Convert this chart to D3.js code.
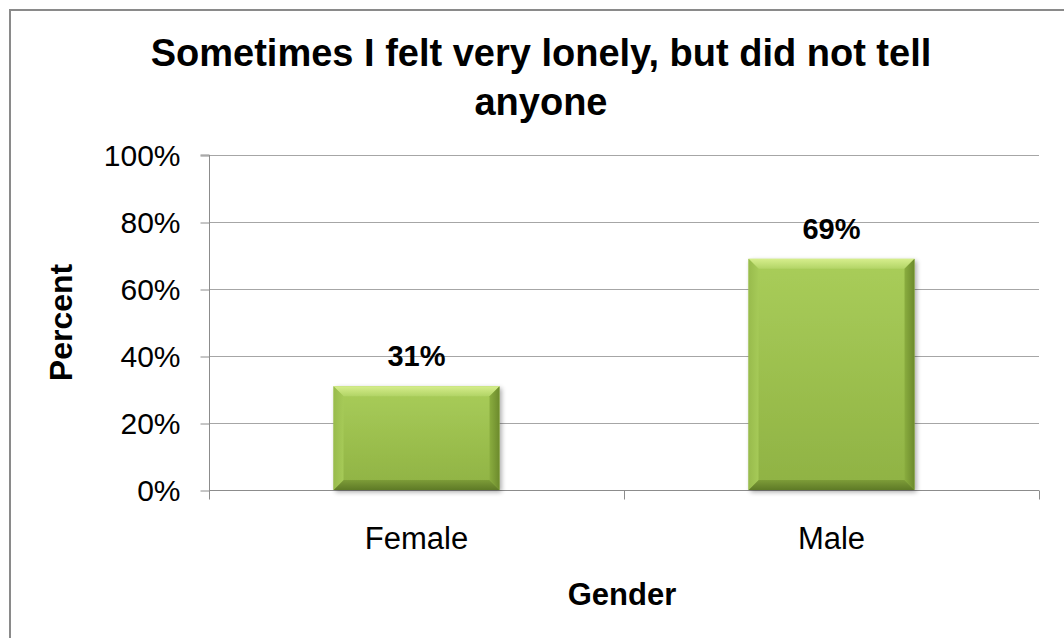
<!DOCTYPE html>
<html>
<head>
<meta charset="utf-8">
<script src="https://cdn.jsdelivr.net/npm/d3@7"></script>
<style>
  html, body { margin: 0; padding: 0; background: #fff; }
  svg { display: block; font-family: "Liberation Sans", Arial, sans-serif; }
</style>
</head>
<body>
<svg id="chart" width="1064" height="638"></svg>
<script>
// Chart data
const categories = ["Female", "Male"];
const percents = [31, 69];
const yTicks = [0, 20, 40, 60, 80, 100];
const titleLines = ["Sometimes I felt very lonely, but did not tell", "anyone"];
const yAxisTitle = "Percent";
const xAxisTitle = "Gender";

const W = 1064, H = 638;
const svg = d3.select("#chart");

// Chart frame
svg.append("rect")
  .attr("x", 10).attr("y", 10)
  .attr("width", W + 20).attr("height", H + 20)
  .attr("fill", "#fff")
  .attr("stroke", "#8a8a8a").attr("stroke-width", 2);

const plot = { left: 209, right: 1039, top: 155, bottom: 490 };

const x = d3.scaleBand()
  .domain(categories)
  .range([plot.left, plot.right])
  .paddingInner(0.6).paddingOuter(0.3);

const y = d3.scaleLinear().domain([0, 100]).range([plot.bottom, plot.top]);

// Gradients for bevelled bars
const defs = svg.append("defs");
function vGrad(id, stops) {
  const g = defs.append("linearGradient").attr("id", id)
    .attr("x1", 0).attr("y1", 0).attr("x2", 0).attr("y2", 1);
  stops.forEach(s => g.append("stop").attr("offset", s[0]).attr("stop-color", s[1]));
}
function hGrad(id, stops) {
  const g = defs.append("linearGradient").attr("id", id)
    .attr("x1", 0).attr("y1", 0).attr("x2", 1).attr("y2", 0);
  stops.forEach(s => g.append("stop").attr("offset", s[0]).attr("stop-color", s[1]));
}
vGrad("body", [[0, "#a9cd5a"], [1, "#8fb243"]]);
vGrad("bevTop", [[0, "#d6ee8c"], [1, "#b2d466"]]);
vGrad("bevBot", [[0, "#7d9c38"], [1, "#5e7a26"]]);
hGrad("bevLeft", [[0, "#98bb4c"], [1, "#a6ca58"]]);
hGrad("bevRight", [[0, "#8aad3f"], [1, "#6c8a2c"]]);

const shadow = defs.append("filter").attr("id", "shadow")
  .attr("x", "-10%").attr("y", "-10%").attr("width", "130%").attr("height", "130%");
shadow.append("feGaussianBlur").attr("in", "SourceAlpha").attr("stdDeviation", 2.5);
shadow.append("feOffset").attr("dx", 2).attr("dy", 2).attr("result", "b");
shadow.append("feComponentTransfer").append("feFuncA").attr("type", "linear").attr("slope", 0.35);
const merge = shadow.append("feMerge");
merge.append("feMergeNode");
merge.append("feMergeNode").attr("in", "SourceGraphic");

// Gridlines
svg.append("g")
  .selectAll("line")
  .data(yTicks)
  .join("line")
  .attr("x1", plot.left).attr("x2", plot.right)
  .attr("y1", d => Math.round(y(d)) + 0.5).attr("y2", d => Math.round(y(d)) + 0.5)
  .attr("stroke", "#a6a6a6").attr("stroke-width", 1);

// Y axis
const yAxis = d3.axisLeft(y).tickValues(yTicks).tickFormat(d => d + "%").tickSize(9).tickPadding(20);
const gy = svg.append("g").attr("transform", `translate(${plot.left + 0.5},0.5)`).call(yAxis);
gy.select(".domain").attr("stroke", "#8c8c8c").attr("d", `M-9,${plot.top - 0.5}H0V${plot.bottom - 0.5}`);
gy.selectAll(".tick line").attr("stroke", "#8c8c8c");
gy.selectAll(".tick text")
  .attr("fill", "#000").attr("font-size", 30)
  .attr("font-family", "'Liberation Sans', Arial, sans-serif");

// X axis: ticks at category boundaries
const xAxisG = svg.append("g").attr("transform", `translate(0,${plot.bottom + 0.5})`);
const boundaries = d3.range(categories.length + 1).map(i => plot.left + i * (plot.right - plot.left) / categories.length);
xAxisG.append("line").attr("x1", plot.left).attr("x2", plot.right).attr("stroke", "#8c8c8c");
xAxisG.selectAll("line.tk").data(boundaries).join("line").attr("class", "tk")
  .attr("x1", d => Math.round(d) + 0.5).attr("x2", d => Math.round(d) + 0.5)
  .attr("y1", 0).attr("y2", 9).attr("stroke", "#8c8c8c");
xAxisG.selectAll("text").data(categories).join("text")
  .attr("x", d => x(d) + x.bandwidth() / 2)
  .attr("y", 58)
  .attr("text-anchor", "middle")
  .attr("font-size", 31)
  .text(d => d);

// Bars with bevel
const bev = 10;
const bars = svg.append("g").selectAll("g").data(categories.map((c, i) => ({ c, v: percents[i] }))).join("g");
bars.each(function(d) {
  const g = d3.select(this);
  const x0 = x(d.c), x1 = x(d.c) + x.bandwidth();
  const y0 = y(d.v), y1 = y(0);
  g.append("rect").attr("x", x0).attr("y", y0).attr("width", x1 - x0).attr("height", y1 - y0)
    .attr("fill", "url(#body)").attr("filter", "url(#shadow)");
  g.append("polygon").attr("fill", "url(#bevTop)")
    .attr("points", [[x0, y0], [x1, y0], [x1 - bev, y0 + bev], [x0 + bev, y0 + bev]].join(" "));
  g.append("polygon").attr("fill", "url(#bevBot)")
    .attr("points", [[x0, y1], [x1, y1], [x1 - bev, y1 - bev], [x0 + bev, y1 - bev]].join(" "));
  g.append("polygon").attr("fill", "url(#bevLeft)")
    .attr("points", [[x0, y0], [x0 + bev, y0 + bev], [x0 + bev, y1 - bev], [x0, y1]].join(" "));
  g.append("polygon").attr("fill", "url(#bevRight)")
    .attr("points", [[x1, y0], [x1 - bev, y0 + bev], [x1 - bev, y1 - bev], [x1, y1]].join(" "));
  g.append("text")
    .attr("x", (x0 + x1) / 2).attr("y", y0 - 20)
    .attr("text-anchor", "middle")
    .attr("font-size", 29).attr("font-weight", "bold")
    .text(d.v + "%");
});

// Title
svg.append("g").selectAll("text").data(titleLines).join("text")
  .attr("x", 541).attr("y", (d, i) => 66 + i * 49)
  .attr("text-anchor", "middle")
  .attr("font-size", 38).attr("font-weight", "bold")
  .text(d => d);

// Axis titles
svg.append("text")
  .attr("transform", `translate(72,${(plot.top + plot.bottom) / 2}) rotate(-90)`)
  .attr("text-anchor", "middle")
  .attr("font-size", 32).attr("font-weight", "bold")
  .text(yAxisTitle);
svg.append("text")
  .attr("x", (plot.left + plot.right) / 2 - 2).attr("y", 605)
  .attr("text-anchor", "middle")
  .attr("font-size", 31).attr("font-weight", "bold")
  .text(xAxisTitle);
</script>
</body>
</html>
